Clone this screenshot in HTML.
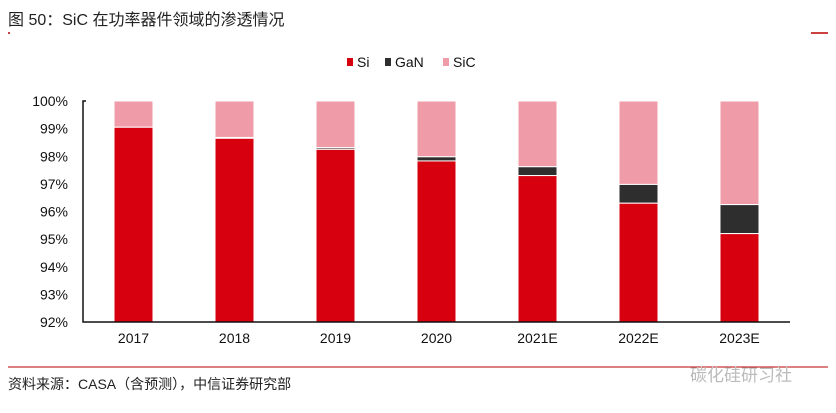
<!DOCTYPE html>
<html><head><meta charset="utf-8"><style>
body{margin:0;background:#fff;width:836px;height:408px;overflow:hidden;font-family:"Liberation Sans","Noto Sans CJK SC",sans-serif;}
svg text{font-family:"Liberation Sans","Noto Sans CJK SC",sans-serif;}
</style></head><body>
<svg width="836" height="408" id="chart">
<text x="8" y="25" font-size="16" fill="#222">图 50：SiC 在功率器件领域的渗透情况</text>
<line x1="8" y1="33" x2="10" y2="33" stroke="#b00" stroke-width="1.5"/>
<line x1="811" y1="33" x2="828" y2="33" stroke="#b00" stroke-width="1.5"/>
<g>
<rect x="347" y="58" width="6" height="8" fill="#d7000f"/><text x="357" y="67" font-size="14" fill="#111">Si</text>
<rect x="385" y="58" width="6" height="8" fill="#2e2e2e"/><text x="395" y="67" font-size="14" fill="#111">GaN</text>
<rect x="443" y="58" width="6" height="8" fill="#ef9ca8"/><text x="453" y="67" font-size="14" fill="#111">SiC</text>
</g>
<g id="plot"></g>
<line x1="8" y1="367" x2="828" y2="367" stroke="#b00" stroke-width="1"/>
<text x="8" y="389" font-size="14" fill="#222">资料来源：CASA（含预测），中信证券研究部</text>
<text x="690" y="381" font-size="17" fill="#bbb">碳化硅研习社</text>
</svg>
<script>
const categories=["2017","2018","2019","2020","2021E","2022E","2023E"];
const siValues=[99.05,98.65,98.25,97.83,97.3,96.3,95.2];
const ganValues=[0.0,0.03,0.06,0.15,0.32,0.68,1.05];
const yTicks=[92,93,94,95,96,97,98,99,100];
const x0=83,x1=790,yTop=101,yBot=322,yMin=92,yMax=100;
const y=v=>yBot-(v-yMin)/(yMax-yMin)*(yBot-yTop);
const band=(x1-x0)/categories.length;
const xc=i=>x0+band*(i+0.5);
const ns="http://www.w3.org/2000/svg";
const g=document.getElementById('plot');
function mk(t,a){const e=document.createElementNS(ns,t);for(const k in a)e.setAttribute(k,a[k]);g.appendChild(e);return e;}
yTicks.forEach(t=>{const e=mk('text',{x:68,y:y(t)+5,'font-size':14,'text-anchor':'end',fill:'#111'});e.textContent=t+'%';

});
const bw=39;
categories.forEach((c,i)=>{
 const sv=siValues[i],gv=ganValues[i],x=xc(i)-bw/2;
 let r=mk('rect',{x:x,y:y(100),width:bw,height:y(sv+gv)-y(100),fill:'#ef9ca8',stroke:'#fff','stroke-width':1});
 
 
 if(gv>0){r=mk('rect',{x:x,y:y(sv+gv),width:bw,height:y(sv)-y(sv+gv),fill:'#2e2e2e',stroke:'#fff','stroke-width':1});
 
 }
 r=mk('rect',{x:x,y:y(sv),width:bw,height:yBot-y(sv),fill:'#d7000f',stroke:'#fff','stroke-width':1});
 
 
 const t=mk('text',{x:xc(i),y:343,'font-size':14,'text-anchor':'middle',fill:'#111'});t.textContent=c;
 
 
});
let a=mk('path',{d:`M${x0+3},${yTop} H${x0} V${yBot} H${x1}`,fill:'none',stroke:'#111','stroke-width':1.5});


</script>
</body></html>
